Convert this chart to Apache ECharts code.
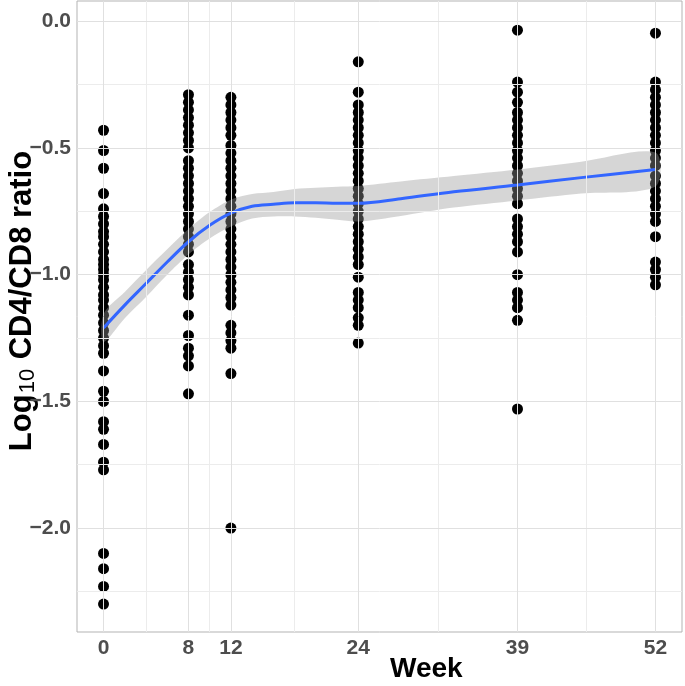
<!DOCTYPE html>
<html>
<head>
<meta charset="utf-8">
<script src="https://cdn.jsdelivr.net/npm/echarts@6/dist/echarts.min.js"></script>
<style>
html,body{margin:0;padding:0;background:#fff;}
#chart{width:685px;height:686px;}
</style>
</head>
<body>
<div id="chart"></div>
<script>
// ---- data ----
const weeks = [0, 8, 12, 24, 39, 52];
const ratioWeek0 = [-0.43, -0.51, -0.58, -0.68, -0.74, -0.77, -0.80, -0.83, -0.85, -0.88, -0.91, -0.94, -0.96, -0.98, -1.00, -1.02, -1.05, -1.08, -1.10, -1.13, -1.16, -1.19, -1.22, -1.25, -1.28, -1.31, -1.38, -1.46, -1.50, -1.58, -1.61, -1.67, -1.74, -1.77, -2.10, -2.16, -2.23, -2.30];
const ratioWeek8 = [-0.29, -0.32, -0.35, -0.38, -0.41, -0.44, -0.47, -0.50, -0.55, -0.58, -0.61, -0.64, -0.67, -0.70, -0.73, -0.76, -0.79, -0.82, -0.85, -0.88, -0.91, -0.96, -0.99, -1.02, -1.05, -1.08, -1.16, -1.24, -1.29, -1.32, -1.36, -1.47];
const ratioWeek12 = [-0.30, -0.33, -0.36, -0.39, -0.42, -0.45, -0.49, -0.52, -0.55, -0.58, -0.61, -0.64, -0.67, -0.70, -0.73, -0.76, -0.79, -0.82, -0.85, -0.88, -0.91, -0.94, -0.97, -1.00, -1.03, -1.06, -1.09, -1.12, -1.20, -1.23, -1.26, -1.29, -1.39, -2.00];
const ratioWeek24 = [-0.16, -0.28, -0.33, -0.36, -0.39, -0.42, -0.45, -0.48, -0.51, -0.54, -0.57, -0.60, -0.63, -0.66, -0.69, -0.72, -0.75, -0.78, -0.81, -0.84, -0.87, -0.90, -0.93, -0.96, -1.01, -1.07, -1.10, -1.13, -1.17, -1.20, -1.27];
const ratioWeek39 = [-0.035, -0.24, -0.28, -0.32, -0.36, -0.39, -0.42, -0.45, -0.48, -0.51, -0.54, -0.57, -0.60, -0.63, -0.66, -0.69, -0.72, -0.78, -0.81, -0.84, -0.87, -0.91, -1.00, -1.07, -1.10, -1.13, -1.18, -1.53];
const ratioWeek52 = [-0.047, -0.24, -0.27, -0.30, -0.33, -0.36, -0.39, -0.42, -0.45, -0.48, -0.51, -0.54, -0.57, -0.61, -0.64, -0.67, -0.70, -0.73, -0.76, -0.79, -0.85, -0.95, -0.98, -1.01, -1.04];

// loess fit and 95% band
const fitWeek  = [0, 2, 4, 6, 8, 10, 12, 14, 16, 18, 20, 22, 24, 28, 33, 39, 45, 52];
const fitValue = [-1.21, -1.12, -1.035, -0.95, -0.87, -0.805, -0.757, -0.73, -0.722, -0.716, -0.716, -0.718, -0.718, -0.70, -0.673, -0.646, -0.617, -0.585];
const fitLower = [-1.265, -1.172, -1.088, -1.0, -0.92, -0.857, -0.81, -0.778, -0.77, -0.77, -0.775, -0.783, -0.79, -0.768, -0.735, -0.707, -0.68, -0.652];
const fitUpper = [-1.155, -1.068, -0.982, -0.90, -0.82, -0.753, -0.704, -0.682, -0.674, -0.662, -0.657, -0.653, -0.65, -0.632, -0.611, -0.585, -0.554, -0.518];

// axes
const xTicks = [0, 8, 12, 24, 39, 52];
const xMinor = [4, 10, 18, 31.5, 45.5];
const yTicks = [0, -0.5, -1.0, -1.5, -2.0];
const yMinor = [-0.25, -0.75, -1.25, -1.75, -2.25];

const FONT = 'Liberation Sans, Arial, Helvetica, sans-serif';
const allRatios = [ratioWeek0, ratioWeek8, ratioWeek12, ratioWeek24, ratioWeek39, ratioWeek52];
const points = [];
weeks.forEach((w, i) => allRatios[i].forEach(v => points.push([w, v])));
const fitLine = fitWeek.map((w, i) => [w, fitValue[i]]);
const bandData = fitWeek.map((w, i) => [w, fitLower[i], fitUpper[i]]);

const fmtY = v => (v < 0 ? '\u2212' : '') + Math.abs(v).toFixed(1);

const chart = echarts.init(document.getElementById('chart'));
chart.setOption({
  animation: false,
  backgroundColor: '#ffffff',
  grid: {left: 77, right: 3, top: 1, bottom: 54, show: true, borderColor: '#b3b3b3', borderWidth: 1,
         backgroundColor: 'transparent', containLabel: false, outerBoundsMode: 'none'},
  xAxis: {
    type: 'value', min: -2.5, max: 54.5,
    axisLine: {show: false},
    splitLine: {show: false},
    axisTick: {show: true, customValues: xTicks, length: 4, lineStyle: {color: '#b3b3b3'}},
    axisLabel: {customValues: xTicks, margin: 6, color: '#4d4d4d', fontSize: 21, fontWeight: 'bold', fontFamily: FONT}
  },
  yAxis: {
    type: 'value', min: -2.41, max: 0.08,
    axisLine: {show: false},
    splitLine: {show: false},
    axisTick: {show: true, customValues: yTicks, length: 4, lineStyle: {color: '#b3b3b3'}},
    axisLabel: {customValues: yTicks, margin: 6, color: '#4d4d4d', fontSize: 21, fontWeight: 'bold', fontFamily: FONT, formatter: fmtY}
  },
  graphic: [
    {
      type: 'text', left: 390, top: 655, silent: true,
      style: {text: 'Week', fontSize: 28, fontWeight: 'bold', fill: '#000', fontFamily: FONT}
    },
    {
      type: 'text', x: 22, y: 301, rotation: Math.PI / 2, silent: true,
      style: {
        text: '{a|Log}{b|10}{a| CD4/CD8 ratio}',
        align: 'center', verticalAlign: 'middle', textAlign: 'center', textVerticalAlign: 'middle',
        rich: {
          a: {fontSize: 31, fontWeight: 'bold', fill: '#000', color: '#000', fontFamily: FONT, lineHeight: 34},
          b: {fontSize: 22, fontWeight: 'normal', fill: '#000', color: '#000', fontFamily: FONT, lineHeight: 34, verticalAlign: 'bottom', padding: [0, 1, 0, 1]}
        }
      }
    }
  ],
  series: [
    {
      type: 'line', data: [], z: 0, silent: true,
      markLine: {silent: true, symbol: 'none', label: {show: false}, animation: false,
        lineStyle: {color: '#ececec', width: 1, type: 'solid'},
        data: yMinor.map(v => ({yAxis: v})).concat(xMinor.map(v => ({xAxis: v})))}
    },
    {
      type: 'line', data: [], z: 0, silent: true,
      markLine: {silent: true, symbol: 'none', label: {show: false}, animation: false,
        lineStyle: {color: '#e0e0e0', width: 1, type: 'solid'},
        data: yTicks.map(v => ({yAxis: v})).concat(xTicks.map(v => ({xAxis: v})))}
    },
    {
      type: 'scatter', data: points, symbol: 'circle', symbolSize: 11, z: 2,
      itemStyle: {color: '#000000', opacity: 1}
    },
    {
      type: 'custom', z: 3, silent: true, data: bandData,
      renderItem: function (params, api) {
        if (params.dataIndex !== 0) return null;
        const pts = [];
        bandData.forEach(d => pts.push(api.coord([d[0], d[2]])));
        for (let i = bandData.length - 1; i >= 0; i--) pts.push(api.coord([bandData[i][0], bandData[i][1]]));
        return {type: 'polygon', shape: {points: pts, smooth: 0.3}, style: {fill: 'rgba(153,153,153,0.4)'}};
      }
    },
    {
      type: 'line', data: fitLine, smooth: 0.35, symbol: 'none', z: 4,
      lineStyle: {color: '#3366FF', width: 3}
    }
  ]
});
</script>
</body>
</html>
